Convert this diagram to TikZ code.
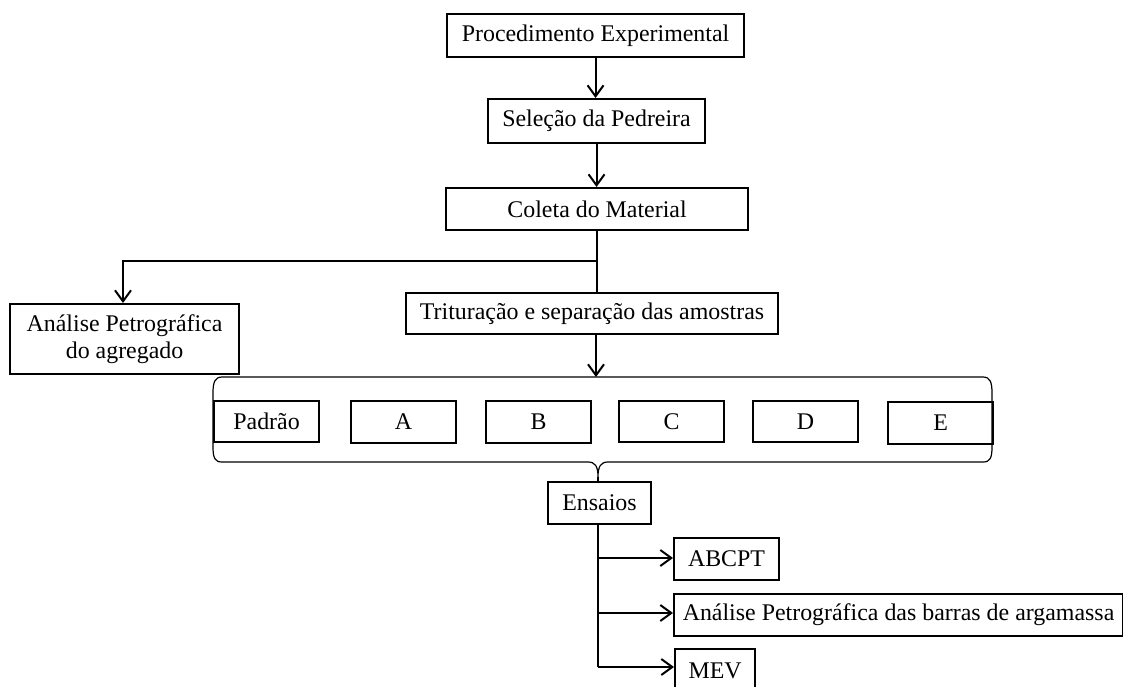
\documentclass[tikz,border=0pt]{standalone}
\usepackage{fontspec}
\setmainfont{Liberation Serif}
\usetikzlibrary{arrows.meta}
\newcommand{\boxfont}{\fontsize{23.9}{27}\selectfont}
\begin{document}
\begin{tikzpicture}[x=1pt,y=-1pt,
  box/.style={draw, line width=2.1pt, inner sep=0pt, anchor=north west, font=\boxfont, align=center},
  conn/.style={line width=2pt},
  arr/.style={conn, -{Straight Barb[length=11pt,width=16pt]}},
  bracket/.style={line width=1.2pt}]
\useasboundingbox (0,0) rectangle (1123,686);

% main sequence
\node[box, minimum width=297pt, minimum height=43pt] (proc) at (446,13) {Procedimento Experimental};
\node[box, minimum width=217pt, minimum height=44pt] (sel) at (487,98) {Seleção da Pedreira};
\node[box, minimum width=302pt, minimum height=42pt] (col) at (445,187) {Coleta do Material};
\node[box, minimum width=372pt, minimum height=41pt] (trit) at (405,292) {Trituração e separação das amostras};
\node[box, minimum width=229pt, minimum height=70pt] (pet) at (9,303) {Análise Petrográfica\\do agregado};

% samples
\node[box, minimum width=105pt, minimum height=41pt] (pad) at (213,400) {Padrão};
\node[box, minimum width=105pt, minimum height=42pt] (sa) at (350,400) {A};
\node[box, minimum width=105pt, minimum height=42pt] (sb) at (485,400) {B};
\node[box, minimum width=105pt, minimum height=41pt] (sc) at (618,400) {C};
\node[box, minimum width=105pt, minimum height=41pt] (sd) at (752,400) {D};
\node[box, minimum width=105pt, minimum height=42pt] (se) at (887,401) {E};

% tests
\node[box, minimum width=103pt, minimum height=42pt] (ens) at (547,481) {Ensaios};
\node[box, minimum width=105pt, minimum height=42pt] (abc) at (673,537) {ABCPT};
\node[box, minimum width=449pt, minimum height=42pt] (apb) at (673,593) {Análise Petrográfica das barras de argamassa};
\node[box, minimum width=80pt, minimum height=44pt] (mev) at (674,648) {MEV};

% connectors
\draw[arr] (proc.south) -- (proc.south |- sel.north);
\draw[arr] (sel.south) -- (sel.south |- col.north);
\coordinate (split) at (596,261);
\draw[conn] (col.south) -- (col.south |- trit.north);
\draw[arr] (split) -| (pet.north -| 123,0);

% bracket around the samples
\coordinate (brtop) at (596,377);
\coordinate (brtip) at (598,477);
\draw[arr] (trit.south -| brtop) -- (brtop);
\draw[bracket] (brtop) -- (222,377) .. controls (215,377) and (213,382) .. (213,393)
  -- (213,447) .. controls (213,458) and (215,462) .. (222,462)
  -- (588,462) .. controls (595,462) and (598,466) .. (brtip)
  .. controls (598,466) and (601,462) .. (608,462)
  -- (983,462) .. controls (990,462) and (992,458) .. (992,447)
  -- (992,393) .. controls (992,382) and (990,377) .. (983,377) -- (brtop);
\draw[bracket] (brtip) -- (brtip |- ens.north);

% branches from Ensaios
\coordinate (bend) at (598,667);
\draw[conn] (ens.south -| bend) -- (bend);
\draw[arr] (598,558) -- (598,558 -| abc.west);
\draw[arr] (598,613) -- (598,613 -| apb.west);
\draw[arr] (bend) -- (bend -| mev.west);
\end{tikzpicture}
\end{document}
